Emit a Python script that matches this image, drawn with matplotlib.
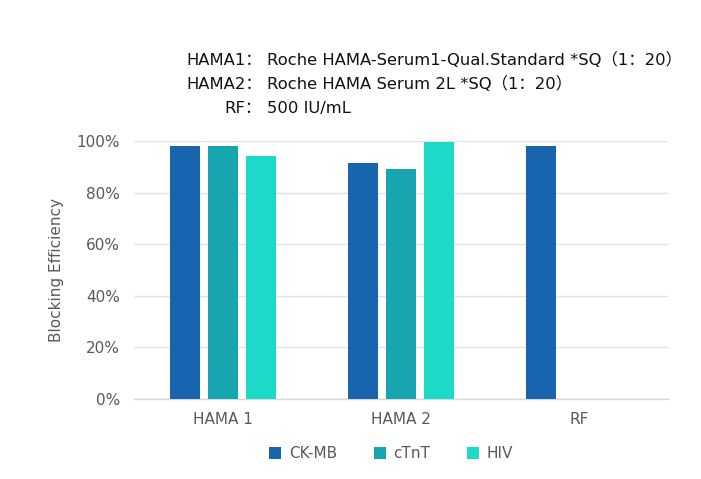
import numpy as np
import matplotlib
matplotlib.use("Agg")
import matplotlib.pyplot as plt
from matplotlib.ticker import PercentFormatter

plt.rcParams['font.family'] = ['DejaVu Sans', 'Noto Sans CJK SC']

# data
groups = ["HAMA 1", "HAMA 2", "RF"]
series = ["CK-MB", "cTnT", "HIV"]
ck_mb = [0.981, 0.915, 0.980]
ctnt = [0.980, 0.891, np.nan]
hiv = [0.942, 0.998, np.nan]
yticks = [0, 0.2, 0.4, 0.6, 0.8, 1.0]
notes = [("HAMA1：", "Roche HAMA-Serum1-Qual.Standard *SQ（1：20）"),
         ("HAMA2：", "Roche HAMA Serum 2L *SQ（1：20）"),
         ("RF：", "500 IU/mL")]

colors = ["#1964AE", "#17A5B0", "#1DD9C8"]
grey = "#595959"

fig = plt.figure(figsize=(7.01, 4.79), dpi=100)
ax = fig.add_axes([134 / 701, 1 - 399 / 479, 534 / 701, 258 / 479])

x = np.arange(len(groups))
w = 30 / 178
step = 38 / 178
for i, (name, vals) in enumerate(zip(series, [ck_mb, ctnt, hiv])):
    ax.bar(x + (i - 1) * step, vals, width=w, color=colors[i], label=name, zorder=3)

ax.set_xlim(-0.5, 2.5)
ax.set_ylim(0, 1.0)
ax.set_yticks(yticks)
ax.yaxis.set_major_formatter(PercentFormatter(1.0, decimals=0))
ax.set_xticks(x)
ax.set_xticklabels(groups)
ax.tick_params(length=0, labelsize=11, colors=grey)
ax.tick_params(axis='x', pad=9)
ax.tick_params(axis='y', pad=10)
ax.grid(axis='y', color="#E3E3E3", linewidth=1, zorder=0)
for s in ["top", "right", "left"]:
    ax.spines[s].set_visible(False)
ax.spines["bottom"].set_color("#D9D9D9")
ax.spines["bottom"].set_linewidth(1)
ax.set_ylabel("Blocking Efficiency", fontsize=11, color=grey, labelpad=9)

# annotation block at top
for j, (lab, val) in enumerate(notes):
    ypx = 60 + j * 24
    fig.text(262 / 701, 1 - ypx / 479, lab, ha='right', va='center', fontsize=11.8, color="#111111")
    fig.text(267 / 701, 1 - ypx / 479, val, ha='left', va='center', fontsize=11.8, color="#111111")

leg = fig.legend(loc='center', bbox_to_anchor=(391 / 701, 1 - 454 / 479), ncol=3, frameon=False,
                 fontsize=11, handlelength=0.8, handleheight=0.8, handletextpad=0.5,
                 columnspacing=2.4)
for t in leg.get_texts():
    t.set_color(grey)

fig.savefig("out.png", dpi=100)
